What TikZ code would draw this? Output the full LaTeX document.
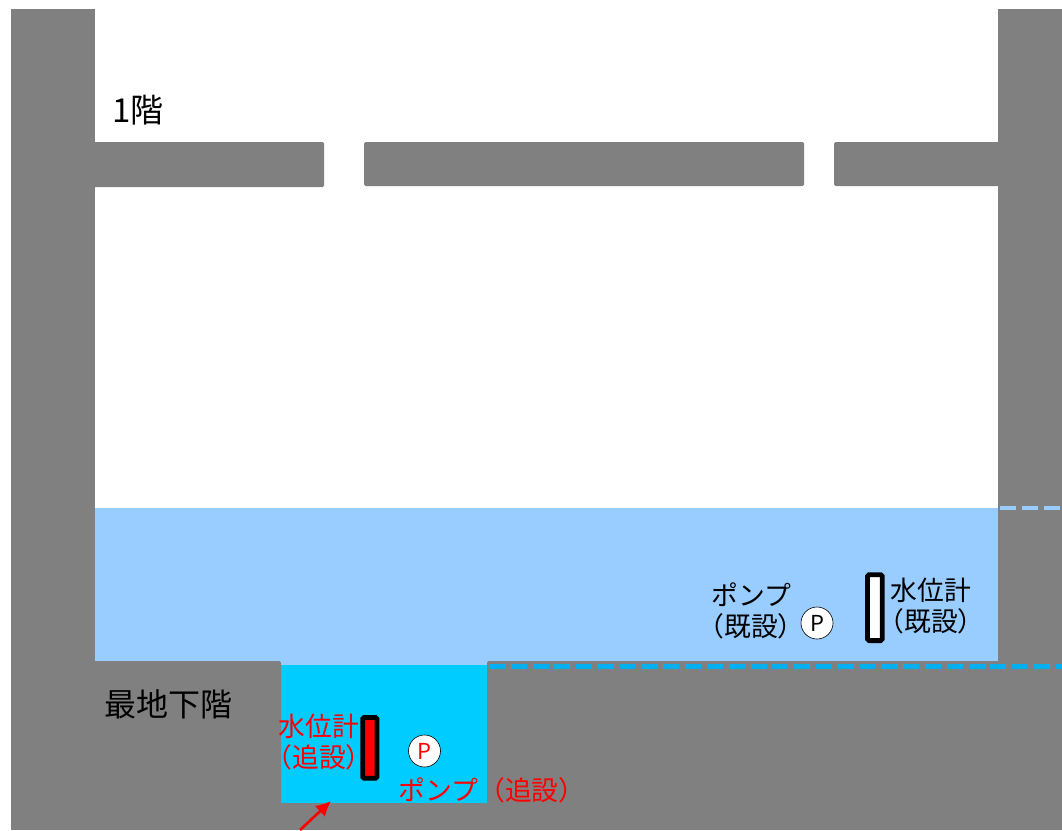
\documentclass[tikz,border=0pt]{standalone}
\usepackage{fontspec}
\usetikzlibrary{arrows.meta}
\setmainfont{Noto Sans CJK JP}
\definecolor{wallgray}{HTML}{808080}
\definecolor{floodblue}{HTML}{99CCFF}
\definecolor{pitblue}{HTML}{00CCFF}
\definecolor{levelblue}{HTML}{00B0F0}
\tikzset{
    concrete/.style={fill=wallgray, draw=none},
    slab/.style={fill=wallgray, draw=none, rounded corners=1.5},
    levelline/.style={line width=4.6, dash pattern=on 16 off 5.8},
    gauge/.style={draw=black, line width=4.8, rounded corners=1.5},
    pumpmark/.style={circle, draw=black, fill=white, line width=0.6, minimum size=32, inner sep=0, font=\fontsize{22}{22}\selectfont},
    label/.style={align=center, inner sep=0, font=\fontsize{26.8}{31}\selectfont},
}
\begin{document}
\begin{tikzpicture}[x=1pt, y=-1pt]
    \useasboundingbox (0,0) rectangle (1062,830);

    % Water
    \fill[floodblue] (95,508) rectangle (998,665);
    \fill[pitblue] (281,665) rectangle (487,803);

    % Walls and floor
    \fill[concrete] (11,9) rectangle (95,830);
    \fill[concrete] (998,9) rectangle (1062,661);
    \fill[concrete] (11,803) rectangle (1062,830);
    \fill[slab] (11,661) rectangle (281,812);
    \fill[slab] (487,661) rectangle (1070,812);

    % Slabs
    \fill[slab] (90,142) rectangle (324,187);
    \fill[slab] (364,142) rectangle (804,186);
    \fill[slab] (834,142) rectangle (1003,186);

    % Water levels
    \coordinate (floodstart) at (1000,508);
    \coordinate (floodend) at (1062,508);
    \coordinate (levelstart) at (489,666.5);
    \coordinate (levelend) at (1062,666.5);
    \draw[levelline, floodblue] (floodstart) -- (floodend);
    \draw[levelline, levelblue] (levelstart) -- (levelend);

    % Floor names
    \node[label, font=\fontsize{33}{33}\selectfont] (groundfloor) at (138,110) {1階};
    \node[label, font=\fontsize{32}{32}\selectfont] (basement) at (168,704) {最地下階};

    % Existing
    \draw[gauge, fill=white] (867.5,574.8) rectangle (882.2,640.6);
    \node[pumpmark] (oldpump) at (817,623) {P};
    \node[label] (oldpumplabel) at (751,611) {ポンプ\\（既設）};
    \node[label] (oldgaugelabel) at (931,606) {水位計\\（既設）};

    % Added
    \draw[gauge, fill=red] (362.7,717.4) rectangle (376.9,778.3);
    \node[pumpmark, text=red] (newpump) at (424.5,751) {P};
    \node[label, text=red] (newgaugelabel) at (319,742) {水位計\\（追設）};
    \node[label, text=red] (newpumplabel) at (492,790) {ポンプ（追設）};

    % Arrow to the pit
    \coordinate (arrowfoot) at (300,830);
    \coordinate (arrowhead) at (331,801);
    \draw[-{Latex[length=15, width=15]}, red, line width=2.6] (arrowfoot) -- (arrowhead);
\end{tikzpicture}
\end{document}
